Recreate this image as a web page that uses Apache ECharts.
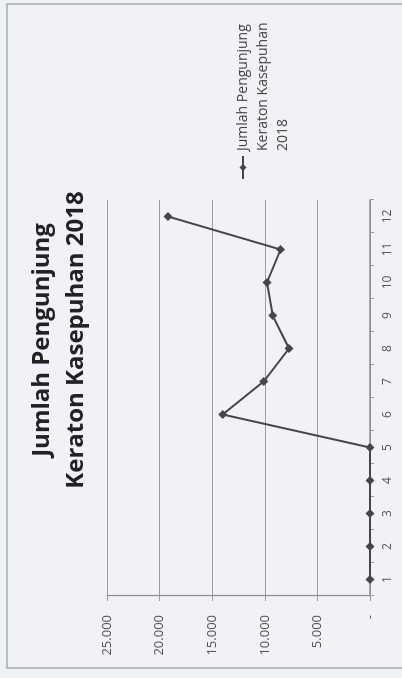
<!DOCTYPE html>
<html>
<head>
<meta charset="utf-8">
<script src="https://cdn.jsdelivr.net/npm/echarts@6/dist/echarts.min.js"></script>
<style>
  html, body { margin: 0; padding: 0; width: 402px; height: 678px; overflow: hidden; background: #eef1f6; }
  /* the chart is drawn landscape and turned a quarter left, like the scanned page */
  #chart {
    position: absolute; left: 0; top: 0;
    width: 678px; height: 402px;
    transform-origin: 0 0;
    transform: translateY(678px) rotate(-90deg);
  }
</style>
</head>
<body>
<div id="chart"></div>
<script>
// data
var bulan = ['1', '2', '3', '4', '5', '6', '7', '8', '9', '10', '11', '12'];
var pengunjung = [0, 0, 0, 0, 0, 14000, 10100, 7700, 9250, 9800, 8500, 19200];
var labelNilai = ['-', '5.000', '10.000', '15.000', '20.000', '25.000'];
var namaSeri = 'Jumlah Pengunjung\nKeraton Kasepuhan\n2018';

var chart = echarts.init(document.getElementById('chart'));

var font = '"Open Sans", "Liberation Sans", sans-serif';

var option = {
  backgroundColor: '#eef1f6',
  animation: false,
  graphic: [{
    type: 'rect',
    z: -10,
    shape: { x: 10, y: 7, width: 664, height: 410 },
    style: { fill: '#f0f2f7', stroke: '#a9abb0', lineWidth: 1.5 }
  }],
  title: {
    text: 'Jumlah Pengunjung\nKeraton Kasepuhan 2018',
    left: 333,
    top: 20,
    textAlign: 'center',
    textStyle: {
      fontFamily: font,
      fontSize: 24,
      fontWeight: 'bold',
      lineHeight: 34,
      color: '#222'
    }
  },
  legend: {
    left: 498,
    top: 193,
    padding: 0,
    itemWidth: 23,
    itemHeight: 9,
    itemGap: 5,
    formatter: function (name) {
      // two empty lines first so the marker sits beside the first line
      return '\n\n' + name;
    },
    textStyle: {
      fontFamily: font,
      fontSize: 14,
      lineHeight: 20,
      color: '#444'
    },
    data: [namaSeri]
  },
  grid: { left: 82, right: 200, top: 107, bottom: 32 },
  xAxis: {
    type: 'category',
    data: bulan,
    boundaryGap: true,
    axisLine: { lineStyle: { color: '#8c8e92', width: 1.5 } },
    axisTick: { show: true, length: 4, interval: 0, lineStyle: { color: '#9a9ca0' } },
    axisLabel: { margin: 12, fontFamily: font, fontSize: 12, color: '#555' }
  },
  yAxis: {
    type: 'value',
    min: 0,
    max: 25000,
    interval: 5000,
    axisLine: { show: true, lineStyle: { color: '#8c8e92', width: 1.2 } },
    axisTick: { show: true, length: 5, lineStyle: { color: '#9a9ca0' } },
    axisLabel: {
      margin: 19,
      fontFamily: font,
      fontSize: 13,
      color: '#555',
      formatter: function (v) { return labelNilai[Math.round(v / 5000)]; }
    },
    splitLine: { lineStyle: { color: '#9c9ea3', width: 1 } }
  },
  series: [{
    name: namaSeri,
    type: 'line',
    data: pengunjung,
    symbol: 'diamond',
    symbolSize: 9,
    lineStyle: { color: '#464646', width: 2 },
    itemStyle: { color: '#464646' }
  }]
};

chart.setOption(option);
</script>
</body>
</html>
